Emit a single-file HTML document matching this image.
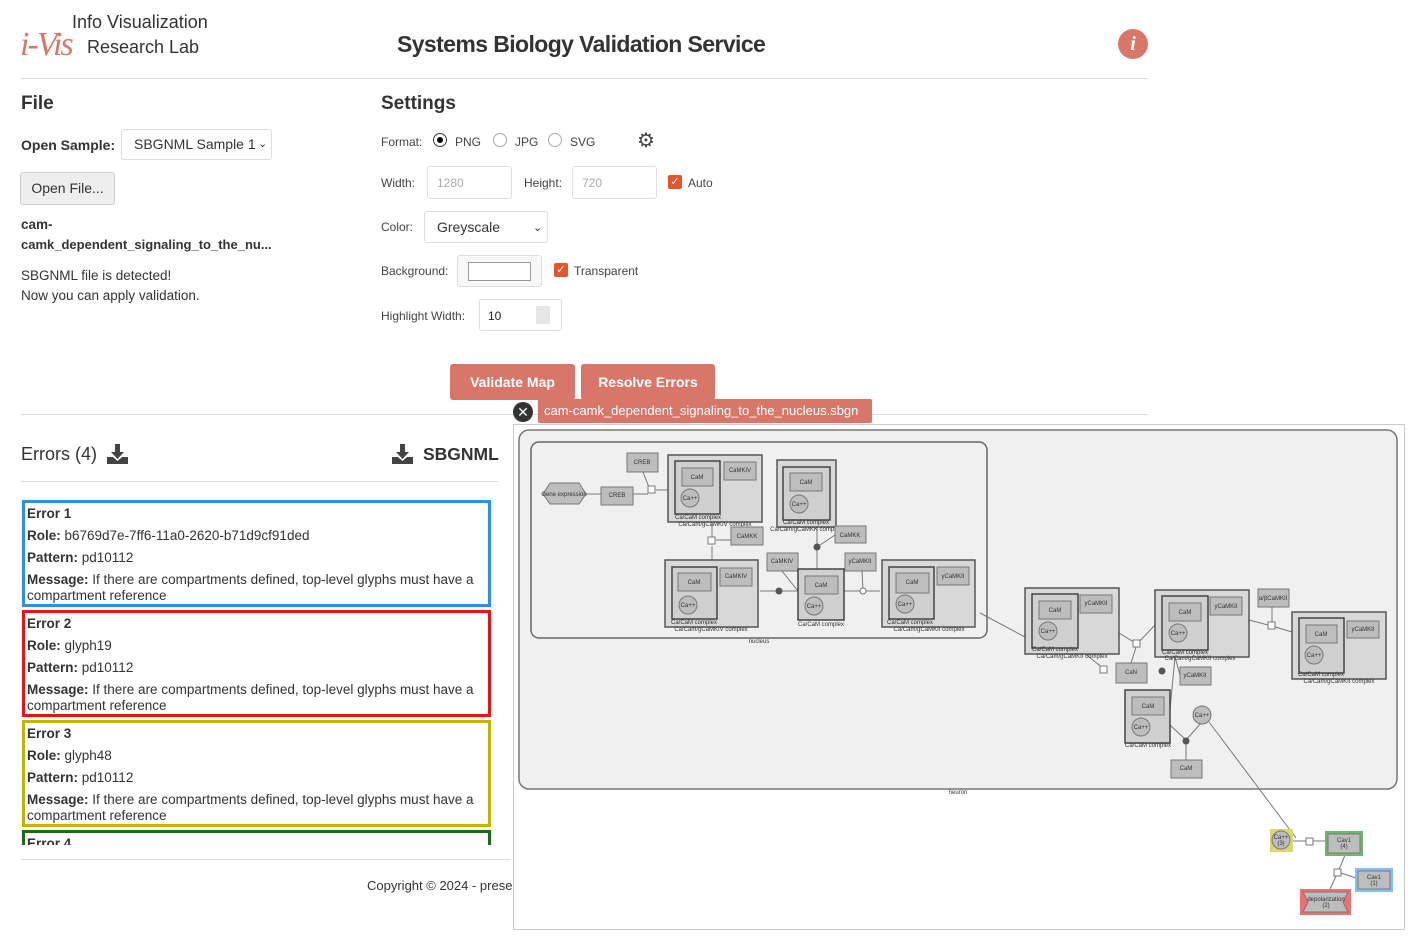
<!DOCTYPE html>
<html><head><meta charset="utf-8"><style>
*{margin:0;padding:0;box-sizing:border-box}
body{width:1411px;height:937px;overflow:hidden;background:#fff;font-family:"Liberation Sans",sans-serif;color:#333;position:relative}
.a{position:absolute;white-space:nowrap}
.hr{position:absolute;height:1px;background:#ddd}
.lbl{font-size:12px;color:#444}
.inp{position:absolute;border:1px solid #ddd;border-radius:3px;background:#fff}
.btn{position:absolute;background:#d9766a;color:#fff;font-size:14px;font-weight:bold;border-radius:3px;text-align:center;line-height:36px}
.err{position:absolute;left:22px;width:469px;border:3px solid;padding:0 2px;font-size:13.5px;line-height:22px}
.err p{margin:0}
.err b{font-weight:bold}
.cb{position:absolute;width:14px;height:14px;background:#e4572e;border-radius:2px;color:#fff;font-size:11px;line-height:14px;text-align:center}
.rad{position:absolute;width:14px;height:14px;border:1px solid #aaa;border-radius:50%}
</style></head><body>
<!-- logo -->
<div class="a" style="left:20px;top:26px;font-family:'Liberation Serif',serif;font-style:italic;font-size:34px;color:#d9766a;letter-spacing:-2px">i-Vis</div>
<div class="a" style="left:72px;top:12px;font-size:18px;color:#333">Info Visualization</div>
<div class="a" style="left:87px;top:37px;font-size:18px;color:#333">Research Lab</div>
<div class="a" style="left:397px;top:31px;font-size:23px;font-weight:bold;color:#333;letter-spacing:-0.6px">Systems Biology Validation Service</div>
<div class="a" style="left:1118px;top:29px;width:30px;height:30px;border-radius:50%;background:#d9766a;color:#fff;text-align:center;font:italic bold 20px/30px 'Liberation Serif',serif">i</div>
<div class="hr" style="left:21px;top:78px;width:1127px"></div>

<div class="a" style="left:21px;top:93px;font-size:19px;font-weight:bold">File</div>
<div class="a" style="left:21px;top:137px;font-size:14px;font-weight:bold">Open Sample:</div>
<div class="inp" style="left:121px;top:129px;width:151px;height:31px"></div>
<div class="a" style="left:134px;top:136px;font-size:14px">SBGNML Sample 1</div>
<div class="a" style="left:258px;top:137px;font-size:11px">⌄</div>
<div class="a" style="left:20px;top:172px;width:95px;height:33px;background:#eee;border:1px solid #ccc;border-radius:3px;font-size:14px;text-align:center;line-height:31px">Open File...</div>
<div class="a" style="left:21px;top:217px;font-size:13.5px;font-weight:bold">cam-</div>
<div class="a" style="left:21px;top:237px;font-size:13px;font-weight:bold">camk_dependent_signaling_to_the_nu...</div>
<div class="a" style="left:21px;top:268px;font-size:13.5px">SBGNML file is detected!</div>
<div class="a" style="left:21px;top:288px;font-size:13.5px">Now you can apply validation.</div>

<div class="a" style="left:381px;top:93px;font-size:19px;font-weight:bold">Settings</div>
<div class="a lbl" style="left:381px;top:135px">Format:</div>
<div class="rad" style="left:433px;top:133px;border-color:#333"><div style="width:6px;height:6px;background:#000;border-radius:50%;margin:3px"></div></div>
<div class="a lbl" style="left:455px;top:135px">PNG</div>
<div class="rad" style="left:493px;top:133px"></div>
<div class="a lbl" style="left:515px;top:135px">JPG</div>
<div class="rad" style="left:548px;top:133px"></div>
<div class="a lbl" style="left:570px;top:135px">SVG</div>
<div class="a" style="left:637px;top:128px;font-size:20px;color:#444">⚙</div>
<div class="a lbl" style="left:381px;top:176px">Width:</div>
<div class="inp" style="left:427px;top:166px;width:85px;height:33px"></div>
<div class="a lbl" style="left:437px;top:176px;color:#aaa">1280</div>
<div class="a lbl" style="left:524px;top:176px">Height:</div>
<div class="inp" style="left:572px;top:166px;width:85px;height:33px"></div>
<div class="a lbl" style="left:582px;top:176px;color:#aaa">720</div>
<div class="cb" style="left:668px;top:175px">✓</div>
<div class="a lbl" style="left:688px;top:176px">Auto</div>
<div class="a lbl" style="left:381px;top:220px">Color:</div>
<div class="inp" style="left:424px;top:211px;width:124px;height:32px"></div>
<div class="a" style="left:437px;top:219px;font-size:14px">Greyscale</div>
<div class="a" style="left:533px;top:221px;font-size:11px">⌄</div>
<div class="a lbl" style="left:381px;top:264px">Background:</div>
<div class="inp" style="left:457px;top:255px;width:85px;height:32px;background:#f8f8f8"></div>
<div class="a" style="left:468px;top:262px;width:63px;height:19px;border:1px solid #999;background:#fff"></div>
<div class="cb" style="left:554px;top:263px">✓</div>
<div class="a lbl" style="left:574px;top:264px">Transparent</div>
<div class="a lbl" style="left:381px;top:309px">Highlight Width:</div>
<div class="inp" style="left:479px;top:299px;width:83px;height:32px"></div>
<div class="a lbl" style="left:488px;top:309px;color:#222">10</div>
<div class="a" style="left:536px;top:306px;width:14px;height:18px;background:#e6e6e6"></div>

<div class="btn" style="left:450px;top:364px;width:125px">Validate Map</div>
<div class="btn" style="left:581px;top:364px;width:134px">Resolve Errors</div>
<div class="hr" style="left:21px;top:414px;width:1127px"></div>

<div class="a" style="left:513px;top:402px;width:20px;height:20px;border-radius:50%;background:#333;color:#fff;text-align:center;font-size:14px;line-height:20px">✕</div>
<div class="a" style="left:538px;top:399px;width:334px;height:24px;background:#d9766a;color:#fff;font-size:13px;line-height:23px;padding-left:6px;border-radius:2px">cam-camk_dependent_signaling_to_the_nucleus.sbgn</div>

<div class="a" style="left:21px;top:444px;font-size:18px">Errors (4)</div>
<svg class="a" style="left:107px;top:444px" width="21" height="20" viewBox="0 0 21 20"><path d="M8 0h5v8h4l-6.5 7L4 8h4z M0 13h6l4.5 4 4.5-4h6v7H0z" fill="#444"/></svg>
<svg class="a" style="left:392px;top:444px" width="21" height="20" viewBox="0 0 21 20"><path d="M8 0h5v8h4l-6.5 7L4 8h4z M0 13h6l4.5 4 4.5-4h6v7H0z" fill="#444"/></svg>
<div class="a" style="left:423px;top:444px;font-size:17.5px;font-weight:bold">SBGNML</div>
<div class="hr" style="left:21px;top:481px;width:477px"></div>

<div style="position:absolute;left:0;top:495px;width:500px;height:350px;overflow:hidden">
<div class="err" style="top:5px;border-color:#2b8fef"><p><b>Error 1</b></p><p><b>Role:</b> b6769d7e-7ff6-11a0-2620-b71d9cf91ded</p><p><b>Pattern:</b> pd10112</p><p style="line-height:16px;margin-top:3px"><b>Message:</b> If there are compartments defined, top-level glyphs must have a compartment reference</p></div>
<div class="err" style="top:115px;border-color:#ee1111"><p><b>Error 2</b></p><p><b>Role:</b> glyph19</p><p><b>Pattern:</b> pd10112</p><p style="line-height:16px;margin-top:3px"><b>Message:</b> If there are compartments defined, top-level glyphs must have a compartment reference</p></div>
<div class="err" style="top:225px;border-color:#c2b400"><p><b>Error 3</b></p><p><b>Role:</b> glyph48</p><p><b>Pattern:</b> pd10112</p><p style="line-height:16px;margin-top:3px"><b>Message:</b> If there are compartments defined, top-level glyphs must have a compartment reference</p></div>
<div class="err" style="top:335px;border-color:#1a6b1a"><p><b>Error 4</b></p></div>
</div>
<div class="hr" style="left:21px;top:859px;width:490px"></div>
<div class="a" style="left:367px;top:878px;font-size:13px;width:146px;overflow:hidden">Copyright © 2024 - present</div>

<div class="a" style="left:513px;top:424px;width:892px;height:506px;border:1px solid #ccc;background:#fff"></div>
<svg class="a" style="left:0;top:0" width="1411" height="937" font-family="Liberation Sans, sans-serif">
<style>.n{fill:#bdbdbd;stroke:#777;stroke-width:1}.c{fill:#d8d8d8;stroke:#555;stroke-width:1.5}.i{fill:#d0d0d0;stroke:#444;stroke-width:1.5}.e{stroke:#777;stroke-width:1;fill:none}text{font-size:6px;fill:#333;text-anchor:middle}</style>
<rect x="519" y="430" width="878" height="359" rx="10" fill="#f0f0f0" stroke="#777" stroke-width="1.5"/>
<text x="958" y="794" font-size="5">neuron</text>
<rect x="531" y="442" width="456" height="196" rx="8" fill="#f0f0f0" stroke="#666" stroke-width="1.5"/>
<text x="759" y="643" font-size="5">nucleus</text>
<path class="e" d="M586 494H601 M633 494H648 M656 490H668 M643 472L650 490 M712 522V540 M712 546V560 M716 540H731 M817 527V547 M817 547L835 535 M817 547V569 M798 591H760 M798 591L782 571 M844 591H880 M863 591L862 571 M980 613L1025 637 M1119 633L1137 644 M1137 644L1155 625 M1137 644L1131 663 M1078 648L1104 669 M1170 710L1175 657 M1175 657L1180 675 M1186 740L1170 725 M1186 740L1202 722 M1186 740V760 M1249 620L1272 626 M1272 626L1292 632 M1272 626V607 M1296 838L1209 722 M1293 841H1326 M1338 872L1345 855 M1338 872L1356 878 M1338 872L1330 889"/>
<rect x="648" y="486" width="7" height="7" fill="#fff" stroke="#777"/><rect x="708" y="537" width="7" height="7" fill="#fff" stroke="#777"/>
<rect x="1133" y="640" width="7" height="7" fill="#fff" stroke="#777"/><rect x="1100" y="666" width="7" height="7" fill="#fff" stroke="#777"/>
<rect x="1268" y="622" width="7" height="7" fill="#fff" stroke="#777"/><rect x="1306" y="838" width="7" height="7" fill="#fff" stroke="#777"/><rect x="1334" y="869" width="7" height="7" fill="#fff" stroke="#777"/>
<circle cx="817" cy="547" r="3.5" fill="#555"/><circle cx="779" cy="591" r="3.5" fill="#555"/><circle cx="1162" cy="671" r="3.5" fill="#555"/><circle cx="1186" cy="741" r="3.5" fill="#555"/><circle cx="863" cy="591" r="3" fill="#fff" stroke="#777"/>
<polygon points="543,494 550,483 579,483 586,494 579,504 550,504" class="n"/><text x="564" y="496">Gene expression</text>
<rect x="627" y="453" width="31" height="19" class="n"/><text x="642" y="464">CREB</text>
<rect x="601" y="487" width="32" height="18" class="n"/><text x="617" y="497">CREB</text>
<rect x="668" y="455" width="94" height="67" class="c"/><rect x="675" y="461" width="45" height="53" class="i"/><rect x="682" y="468" width="31" height="18" class="n"/><text x="697" y="479">CaM</text><circle cx="690" cy="498" r="9" class="n"/><text x="690" y="500">Ca++</text><rect x="724" y="462" width="32" height="18" class="n"/><text x="740" y="472">CaMKIV</text><text x="698" y="519">Ca/CaM complex</text><text x="715" y="526">Ca/Cam/gCaMKIV complex</text>
<rect x="777" y="460" width="59" height="67" class="c"/><rect x="783" y="467" width="47" height="53" class="i"/><rect x="790" y="473" width="32" height="18" class="n"/><text x="806" y="484">CaM</text><circle cx="799" cy="504" r="9" class="n"/><text x="799" y="506">Ca++</text><text x="806" y="524">Ca/CaM complex</text><text x="806" y="531">Ca/Cam/gCaMKK complex</text>
<rect x="731" y="527" width="32" height="18" class="n"/><text x="747" y="538">CaMKK</text><rect x="835" y="526" width="31" height="17" class="n"/><text x="850" y="537">CaMKK</text>
<rect x="665" y="560" width="93" height="67" class="c"/><rect x="672" y="567" width="45" height="52" class="i"/><rect x="678" y="573" width="33" height="18" class="n"/><text x="694" y="584">CaM</text><circle cx="688" cy="605" r="9" class="n"/><text x="688" y="607">Ca++</text><rect x="720" y="568" width="32" height="18" class="n"/><text x="736" y="578">CaMKIV</text><text x="694" y="624">Ca/CaM complex</text><text x="711" y="631">Ca/Cam/gCaMKIV complex</text>
<rect x="767" y="553" width="31" height="18" class="n"/><text x="782" y="563">CaMKIV</text>
<rect x="798" y="569" width="46" height="51" class="i"/><rect x="805" y="576" width="33" height="18" class="n"/><text x="821" y="587">CaM</text><circle cx="814" cy="606" r="9" class="n"/><text x="814" y="608">Ca++</text><text x="821" y="626">Ca/CaM complex</text>
<rect x="845" y="553" width="31" height="18" class="n"/><text x="860" y="563">yCaMKII</text>
<rect x="882" y="560" width="93" height="67" class="c"/><rect x="889" y="567" width="45" height="52" class="i"/><rect x="896" y="573" width="33" height="20" class="n"/><text x="912" y="584">CaM</text><circle cx="905" cy="604" r="9" class="n"/><text x="905" y="606">Ca++</text><rect x="937" y="567" width="32" height="18" class="n"/><text x="953" y="578">yCaMKII</text><text x="910" y="624">Ca/CaM complex</text><text x="929" y="631">Ca/Cam/gCaMKII complex</text>
<rect x="1025" y="588" width="94" height="66" class="c"/><rect x="1032" y="594" width="46" height="54" class="i"/><rect x="1039" y="601" width="32" height="18" class="n"/><text x="1055" y="612">CaM</text><circle cx="1048" cy="631" r="9" class="n"/><text x="1048" y="633">Ca++</text><rect x="1080" y="595" width="32" height="18" class="n"/><text x="1096" y="605">yCaMKII</text><text x="1055" y="651">Ca/CaM complex</text><text x="1072" y="658">Ca/Cam/gCaMKII complex</text>
<rect x="1155" y="590" width="94" height="67" class="c"/><rect x="1162" y="596" width="46" height="54" class="i"/><rect x="1169" y="603" width="32" height="18" class="n"/><text x="1185" y="614">CaM</text><circle cx="1178" cy="633" r="9" class="n"/><text x="1178" y="635">Ca++</text><rect x="1210" y="597" width="32" height="18" class="n"/><text x="1226" y="608">yCaMKII</text><text x="1185" y="654">Ca/CaM complex</text><text x="1200" y="660">Ca/Cam/gCaMKII complex</text>
<rect x="1258" y="589" width="31" height="18" class="n"/><text x="1273" y="600">α/βCaMKII</text>
<rect x="1292" y="612" width="94" height="67" class="c"/><rect x="1299" y="618" width="45" height="55" class="i"/><rect x="1306" y="625" width="31" height="18" class="n"/><text x="1321" y="636">CaM</text><circle cx="1314" cy="655" r="9" class="n"/><text x="1314" y="657">Ca++</text><rect x="1347" y="621" width="32" height="17" class="n"/><text x="1363" y="631">yCaMKII</text><text x="1321" y="676">Ca/CaM complex</text><text x="1339" y="683">Ca/Cam/gCaMKII complex</text>
<rect x="1116" y="663" width="31" height="20" class="n"/><text x="1131" y="674">CaN</text>
<rect x="1180" y="667" width="31" height="18" class="n"/><text x="1195" y="677">yCaMKII</text>
<rect x="1125" y="690" width="45" height="53" class="i"/><rect x="1132" y="697" width="32" height="18" class="n"/><text x="1148" y="708">CaM</text><circle cx="1141" cy="727" r="9" class="n"/><text x="1141" y="729">Ca++</text><text x="1148" y="747">Ca/CaM complex</text>
<circle cx="1202" cy="715" r="9" class="n"/><text x="1202" y="717">Ca++</text>
<rect x="1171" y="760" width="31" height="18" class="n"/><text x="1186" y="770">CaM</text>
<rect x="1270" y="829" width="23" height="23" fill="#d8d870"/><circle cx="1281" cy="840" r="9" class="n"/><text x="1281" y="839">Ca++</text><text x="1281" y="845">(3)</text>
<rect x="1325" y="831" width="38" height="25" fill="#6cb86c"/><rect x="1328" y="834" width="32" height="19" class="n"/><text x="1344" y="842">Cav1</text><text x="1344" y="848">(4)</text>
<rect x="1355" y="868" width="38" height="24" fill="#7fbfff"/><rect x="1358" y="871" width="32" height="18" class="n"/><text x="1374" y="879">Cav1</text><text x="1374" y="885">(1)</text>
<rect x="1300" y="889" width="51" height="26" fill="#f07070"/><polygon points="1303,892 1348,892 1343,902 1348,912 1303,912 1308,902" class="n"/><text x="1326" y="901">depolarization</text><text x="1326" y="907">(2)</text>
</svg>
</body></html>
